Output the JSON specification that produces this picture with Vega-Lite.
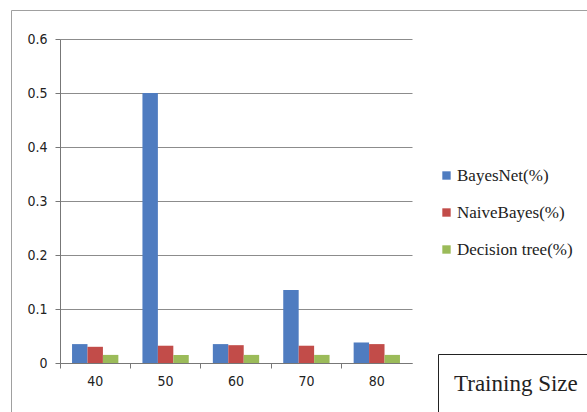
{
  "$schema": "https://vega.github.io/schema/vega-lite/v6.json",
  "autosize": "none",
  "width": 352,
  "height": 324,
  "padding": {"left": 60, "top": 39, "right": 175, "bottom": 49},
  "background": "white",
  "config": {"view": {"stroke": null}},
  "data": {"values": [
    {"size": "40", "method": "BayesNet(%)", "value": 0.035},
    {"size": "40", "method": "NaiveBayes(%)", "value": 0.030},
    {"size": "40", "method": "Decision tree(%)", "value": 0.015},
    {"size": "50", "method": "BayesNet(%)", "value": 0.5},
    {"size": "50", "method": "NaiveBayes(%)", "value": 0.032},
    {"size": "50", "method": "Decision tree(%)", "value": 0.015},
    {"size": "60", "method": "BayesNet(%)", "value": 0.035},
    {"size": "60", "method": "NaiveBayes(%)", "value": 0.033},
    {"size": "60", "method": "Decision tree(%)", "value": 0.015},
    {"size": "70", "method": "BayesNet(%)", "value": 0.135},
    {"size": "70", "method": "NaiveBayes(%)", "value": 0.032},
    {"size": "70", "method": "Decision tree(%)", "value": 0.015},
    {"size": "80", "method": "BayesNet(%)", "value": 0.038},
    {"size": "80", "method": "NaiveBayes(%)", "value": 0.035},
    {"size": "80", "method": "Decision tree(%)", "value": 0.015}
  ]},
  "encoding": {
    "x": {
      "field": "size", "type": "nominal",
      "scale": {"paddingInner": 0, "paddingOuter": 0},
      "axis": {
        "title": null,
        "labelAngle": 0, "labelFont": "DejaVu Sans Condensed", "labelFontSize": 14, "labelColor": "#222", "labelPadding": 6,
        "bandPosition": 0, "tickSize": 5, "tickColor": "#777", "domainColor": "#777", "grid": false
      }
    },
    "y": {
      "field": "value", "type": "quantitative",
      "scale": {"domain": [0, 0.6], "nice": false},
      "axis": {
        "title": null, "values": [0, 0.1, 0.2, 0.3, 0.4, 0.5, 0.6], "format": ".1~f",
        "labelFont": "DejaVu Sans Condensed", "labelFontSize": 14, "labelColor": "#222", "labelPadding": 8,
        "tickSize": 5, "tickColor": "#777", "domainColor": "#777",
        "grid": true, "gridColor": "#8c8c8c", "gridWidth": 1
      }
    }
  },
  "layer": [
    {
      "mark": {"type": "bar"},
      "encoding": {
        "xOffset": {"field": "method", "type": "nominal", "sort": ["BayesNet(%)", "NaiveBayes(%)", "Decision tree(%)"],
          "scale": {"paddingInner": 0, "paddingOuter": 0.78}},
        "color": {
          "field": "method", "type": "nominal",
          "sort": ["BayesNet(%)", "NaiveBayes(%)", "Decision tree(%)"],
          "scale": {"domain": ["BayesNet(%)", "NaiveBayes(%)", "Decision tree(%)"], "range": ["#4F7CC0", "#C24C49", "#9BBB59"]},
          "legend": {
            "title": null, "orient": "none", "legendX": 378, "legendY": 128,
            "symbolType": "square", "symbolSize": 70, "symbolStrokeWidth": 0, "symbolOffset": 0,
            "labelFont": "Liberation Serif", "labelFontSize": 17, "labelColor": "#222", "labelOffset": 2,
            "rowPadding": 19
          }
        }
      }
    },
    {
      "mark": {"type": "point", "opacity": 0},
      "encoding": {
        "shape": {"datum": "Training Size", "type": "nominal",
          "legend": {
            "title": null, "orient": "none", "legendX": 378, "legendY": 315,
            "symbolSize": 0, "symbolOpacity": 0, "symbolOffset": 0, "labelOffset": -25,
            "labelLimit": 600,
            "labelExpr": "datum.label + '\u00a0\u00a0\u00a0\u00a0\u00a0\u00a0\u00a0\u00a0'",
            "labelFont": "Liberation Serif", "labelFontSize": 23, "labelColor": "#222",
            "strokeColor": "#222", "padding": 18
          }
        },
        "strokeDash": {"datum": " ", "type": "nominal",
          "legend": {
            "title": null, "orient": "none", "legendX": -49, "legendY": -29,
            "symbolSize": 0, "symbolOpacity": 0, "labelFontSize": 1,
            "strokeColor": "#a0a0a0", "padding": 700
          }
        }
      }
    }
  ]
}
